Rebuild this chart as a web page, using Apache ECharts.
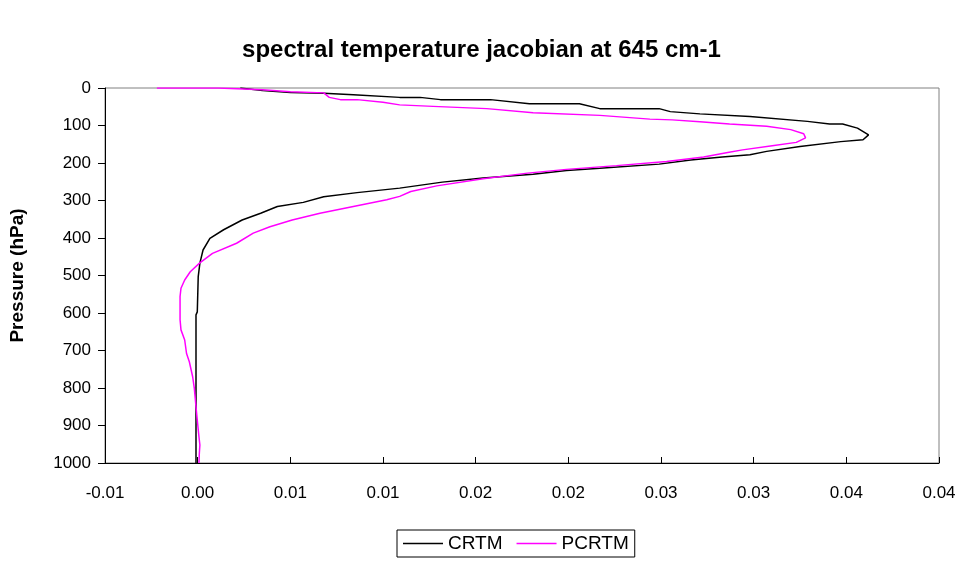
<!DOCTYPE html>
<html>
<head>
<meta charset="utf-8">
<script src="https://cdn.jsdelivr.net/npm/echarts@6/dist/echarts.min.js"></script>
<style>
  html, body { margin: 0; padding: 0; background: #fff; }
  #chart { width: 963px; height: 568px; }
</style>
</head>
<body>
<div id="chart"></div>
<script>
// tick labels as printed on the x axis (rounded to 2 decimals)
var xTickLabels = ["-0.01", "0.00", "0.01", "0.01", "0.02", "0.02", "0.03", "0.03", "0.04", "0.04"];
var xMin = -0.005, xMax = 0.04, xStep = 0.005;

// CRTM jacobian profile
var crtmPressure = [0, 7, 12, 14, 18, 25, 25, 31, 31, 42, 42, 55, 55, 63, 69, 76, 89, 96, 96, 107, 125, 138, 143, 156, 169, 178, 184, 192, 203, 214, 220, 230, 240, 251, 267, 279, 290, 305, 316, 334, 352, 378, 401, 432, 467, 503, 597, 605, 1000];
var crtmValue = [0.0023, 0.0035, 0.0050, 0.0068, 0.0084, 0.0109, 0.0120, 0.0131, 0.0158, 0.0179, 0.0206, 0.0217, 0.0249, 0.0255, 0.0271, 0.0298, 0.0329, 0.0341, 0.0348, 0.0356, 0.0362, 0.0359, 0.0347, 0.0325, 0.0307, 0.0298, 0.0283, 0.0266, 0.0249, 0.0217, 0.0199, 0.0181, 0.0154, 0.0132, 0.0109, 0.0086, 0.0068, 0.0057, 0.0043, 0.0034, 0.0024, 0.0014, 0.00066, 0.00029, 0.00012, 0.00003, -0.00002, -0.00009, -0.00009];

// PCRTM jacobian profile
var pcrtmPressure = [0, 0, 4.5, 4.5, 10, 13, 25, 31, 31, 38, 45, 49, 55, 66, 73, 83, 85, 90, 96, 102, 111, 122, 133, 145, 154, 165, 172, 184, 196, 207, 217, 227, 242, 261, 276, 289, 298, 316, 334, 352, 370, 387, 414, 441, 467, 490, 512, 534, 556, 618, 645, 672, 708, 730, 770, 801, 850, 886, 930, 952, 974, 1000];
var pcrtmValue = [-0.0022, 0.0011, 0.0011, 0.0035, 0.0050, 0.0068, 0.0071, 0.0077, 0.0086, 0.0100, 0.0109, 0.0127, 0.0156, 0.0181, 0.0217, 0.0244, 0.0256, 0.0271, 0.0287, 0.0307, 0.0320, 0.0327, 0.0328, 0.0323, 0.0310, 0.0294, 0.0286, 0.0273, 0.0253, 0.0226, 0.0199, 0.0178, 0.0154, 0.0129, 0.0115, 0.0109, 0.0102, 0.0084, 0.0066, 0.0051, 0.0039, 0.0030, 0.0021, 0.0008, 0.0001, -0.0004, -0.0007, -0.0009, -0.00095, -0.00095, -0.0009, -0.0007, -0.0006, -0.00045, -0.00027, -0.00018, -0.00009, -0.00002, 0.00007, 0.00012, 0.00009, 0.00007];

function zip(xs, ys) {
  var out = [];
  for (var i = 0; i < xs.length; i++) out.push([xs[i], ys[i]]);
  return out;
}

var myChart = echarts.init(document.getElementById("chart"));
var font = "Liberation Sans, Arial, sans-serif";

var option = {
  animation: false,
  backgroundColor: "#ffffff",
  title: {
    text: "spectral temperature jacobian at 645 cm-1",
    left: "center",
    top: 33,
    textStyle: { fontFamily: font, fontSize: 24, fontWeight: "bold", color: "#000" }
  },
  grid: {
    left: 105,
    right: 24,
    top: 88,
    bottom: 105,
    outerBoundsMode: "none",
    show: true,
    borderColor: "#808080",
    borderWidth: 1
  },
  legend: {
    left: 397,
    top: 530,
    padding: [4, 6, 4, 6],
    borderColor: "#000",
    borderWidth: 1,
    icon: "rect",
    itemWidth: 40,
    itemHeight: 1.5,
    itemGap: 14,
    textStyle: { fontFamily: font, fontSize: 19, color: "#000" },
    data: ["CRTM", "PCRTM"]
  },
  xAxis: {
    type: "value",
    min: xMin,
    max: xMax,
    interval: xStep,
    splitLine: { show: false },
    axisLine: { onZero: false, lineStyle: { color: "#000", width: 1 } },
    axisTick: { inside: true, length: 6, lineStyle: { color: "#000" } },
    axisLabel: {
      margin: 22,
      fontFamily: font,
      fontSize: 17,
      color: "#000",
      formatter: function (value) {
        var idx = Math.round((value - xMin) / xStep);
        return xTickLabels[idx] !== undefined ? xTickLabels[idx] : "";
      }
    }
  },
  yAxis: {
    type: "value",
    inverse: true,
    min: 0,
    max: 1000,
    interval: 100,
    name: "Pressure (hPa)",
    nameLocation: "middle",
    nameGap: 78,
    nameTextStyle: { fontFamily: font, fontSize: 19, fontWeight: "bold", color: "#000" },
    splitLine: { show: false },
    axisLine: { onZero: false, lineStyle: { color: "#000", width: 1 } },
    axisTick: { length: 7, lineStyle: { color: "#000" } },
    axisLabel: {
      margin: 14,
      fontFamily: font,
      fontSize: 17,
      color: "#000",
      formatter: function (value) { return String(value); }
    }
  },
  series: [
    {
      name: "CRTM",
      type: "line",
      symbol: "none",
      data: zip(crtmValue, crtmPressure),
      lineStyle: { color: "#000000", width: 1.5 },
      itemStyle: { color: "#000000" }
    },
    {
      name: "PCRTM",
      type: "line",
      symbol: "none",
      data: zip(pcrtmValue, pcrtmPressure),
      lineStyle: { color: "#ff00ff", width: 1.5 },
      itemStyle: { color: "#ff00ff" }
    }
  ]
};

myChart.setOption(option);
</script>
</body>
</html>
